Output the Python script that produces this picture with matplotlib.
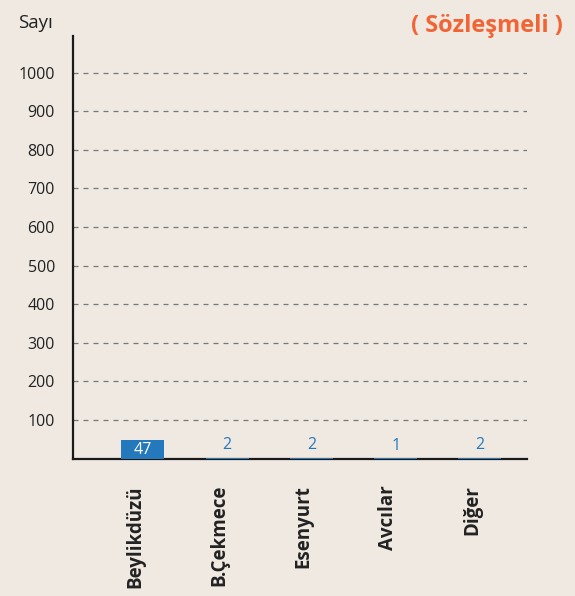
import numpy as np
import matplotlib.pyplot as plt

# Veriler
kategoriler = ["Beylikdüzü", "B.Çekmece", "Esenyurt", "Avcılar", "Diğer"]
degerler = [47, 2, 2, 1, 2]
y_tikler = [100, 200, 300, 400, 500, 600, 700, 800, 900, 1000]

arka = "#efe9e2"
mavi = "#2479bd"
plt.rcParams["font.family"] = ["Open Sans", "DejaVu Sans"]

fig = plt.figure(figsize=(5.75, 5.96), dpi=100, facecolor=arka)
ax = fig.add_axes([0.127, 0.2305, 0.7896, 0.709])
ax.set_facecolor(arka)

x = np.arange(len(kategoriler))
ax.bar(x, degerler, width=0.51, color=mavi, zorder=3)

# Deger etiketleri
for xi, v in zip(x, degerler):
    if v > 20:
        ax.text(xi, v / 2, str(v), ha="center", va="center", color="white",
                fontsize=11.5, zorder=4)
    else:
        ax.text(xi, v + 12, str(v), ha="center", va="bottom", color=mavi,
                fontsize=11.5, zorder=4)

ax.set_xlim(-0.83, 4.56)
ax.set_ylim(0, 1095)
ax.set_yticks(y_tikler)
ax.set_yticklabels([str(t) for t in y_tikler], fontsize=11.5, color="#222222")
ax.yaxis.grid(True, linestyle=(0, (4, 4)), color="#777777", linewidth=0.9)
ax.set_axisbelow(True)

# etiketler cubuklarin biraz solunda
ax.set_xticks(x - 0.09)
ax.set_xticklabels(kategoriler, rotation=90, fontsize=13.5, fontweight="bold",
                   color="#222222", va="top", ha="center")

ax.tick_params(axis="both", length=0)
ax.tick_params(axis="x", pad=19)
ax.tick_params(axis="y", pad=13)

for s in ["top", "right"]:
    ax.spines[s].set_visible(False)
ax.spines["left"].set_linewidth(1.6)
ax.spines["bottom"].set_linewidth(1.6)
ax.spines["left"].set_color("#1a1a1a")
ax.spines["bottom"].set_color("#1a1a1a")

fig.text(18 / 575, 1 - 28 / 596, "Sayı", fontsize=13.5, color="#222222")
fig.text(563 / 575, 1 - 32 / 596, "( Sözleşmeli )", fontsize=17,
         fontweight="bold", color="#f26434", ha="right")

fig.savefig("out.png", dpi=100, facecolor=arka)
